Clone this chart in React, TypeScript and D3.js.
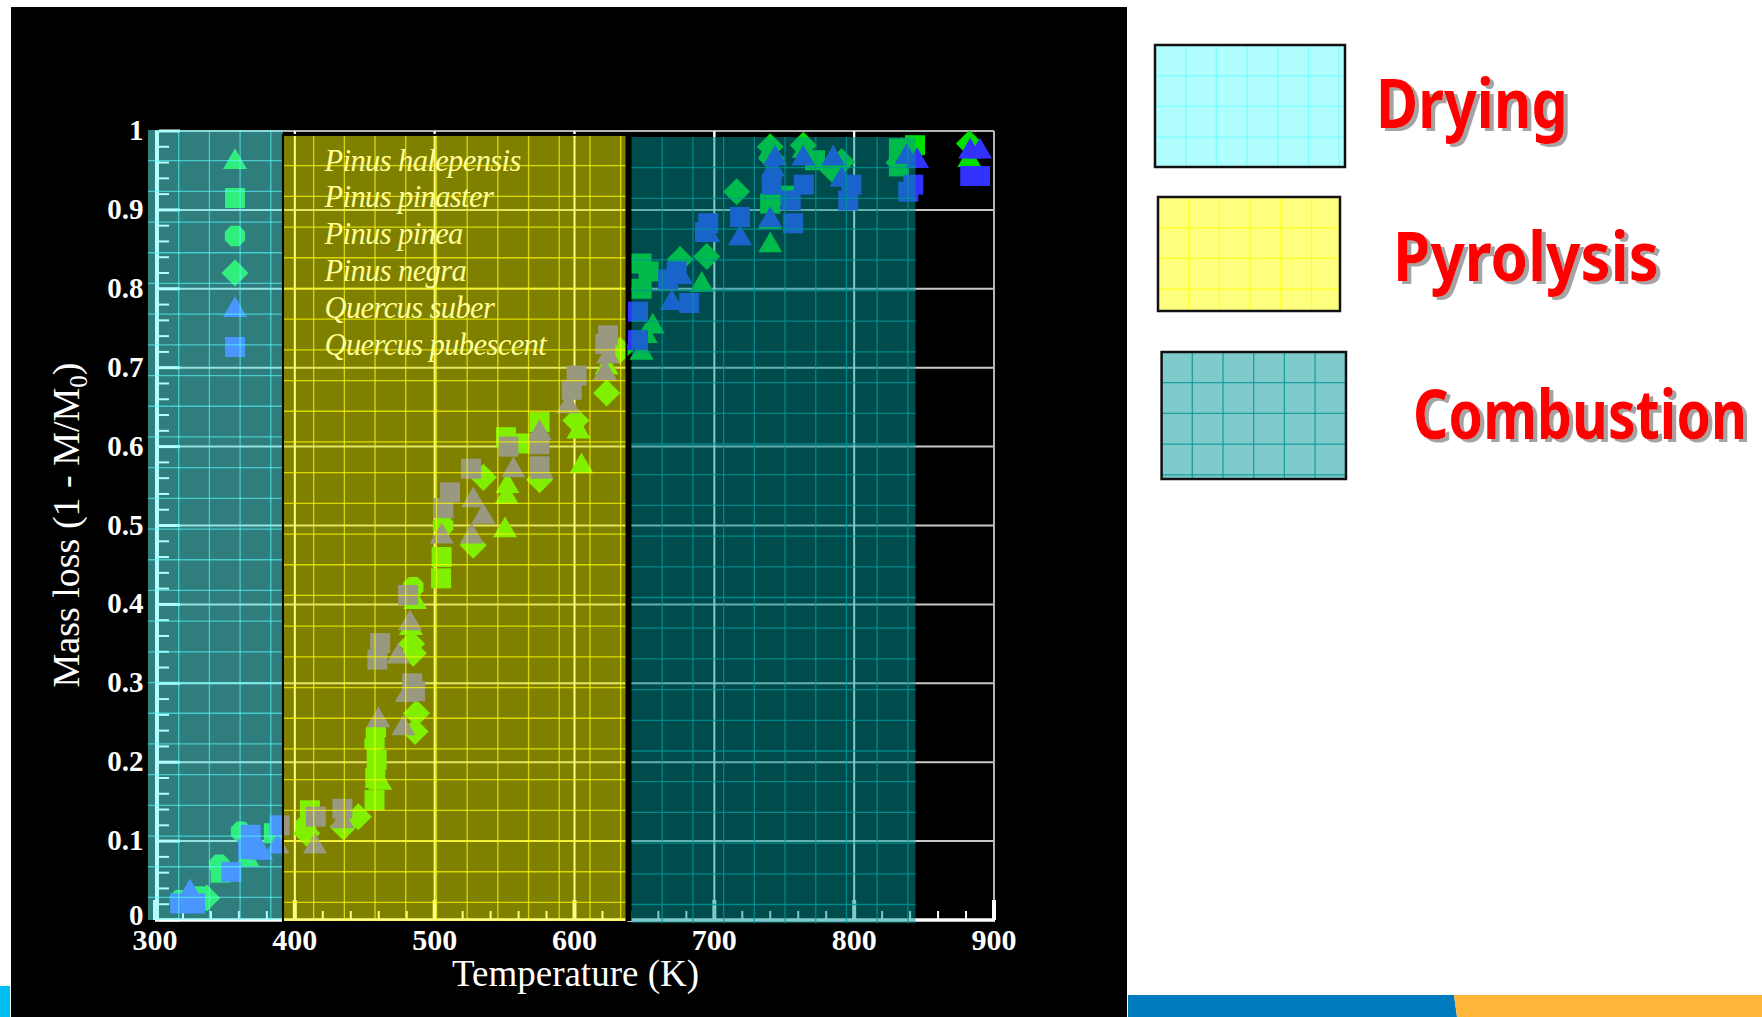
import React from "react";
import * as d3 from "d3";

// ---------- data ----------
const tempTicks = [300, 400, 500, 600, 700, 800, 900];
const massTicks = [0, 0.1, 0.2, 0.3, 0.4, 0.5, 0.6, 0.7, 0.8, 0.9, 1];
const massTickLabels = ["0", "0.1", "0.2", "0.3", "0.4", "0.5", "0.6", "0.7", "0.8", "0.9", "1"];

// [temperature K, mass loss]
const halepensis: [number, number][] = [
  [366, 0.077], [461, 0.174], [483, 0.37], [486, 0.403], [550.3, 0.494], [551.5, 0.536],
  [552, 0.55], [605, 0.575], [602.8, 0.619], [623, 0.70], [648, 0.719], [651, 0.74],
  [656, 0.752], [691, 0.805], [740, 0.855], [740, 0.885], [740, 0.975], [764, 0.975],
  [834, 0.975], [838, 0.975], [882.4, 0.963],
];
const pinaster: [number, number][] = [
  [347, 0.06], [385, 0.11], [410.8, 0.139], [457, 0.152], [457.5, 0.18], [458.5, 0.203],
  [504.6, 0.433], [505, 0.46], [551, 0.612], [563.4, 0.604], [575, 0.631], [648, 0.832],
  [653, 0.822], [648, 0.80], [739.9, 0.908], [752, 0.918], [772, 0.963], [832, 0.978],
  [832, 0.955], [843.5, 0.982],
];
const pinea: [number, number][] = [
  [317.8, 0.025], [331.5, 0.03], [346, 0.07], [361.5, 0.112], [408, 0.12], [457, 0.224],
  [458, 0.238], [484.7, 0.422], [506, 0.50],
];
const negra: [number, number][] = [
  [337, 0.028], [408.5, 0.11], [434.7, 0.118], [445.4, 0.131], [486, 0.239], [487, 0.262],
  [484.7, 0.338], [483.5, 0.35], [527.6, 0.475], [534.8, 0.561], [575, 0.558], [601, 0.633],
  [623, 0.668], [632.5, 0.722], [675.5, 0.837], [694.6, 0.841], [716, 0.923], [740, 0.98],
  [741, 0.965], [763.6, 0.982], [785, 0.95], [791, 0.961], [832, 0.96], [882.4, 0.984],
];
const suber: [number, number][] = [
  [325, 0.035], [376, 0.085], [387.6, 0.093], [414.4, 0.093], [434, 0.125], [459.7, 0.253],
  [477.6, 0.243], [474, 0.334], [480, 0.285], [482.4, 0.376], [505, 0.486], [526.5, 0.486],
  [527.6, 0.532], [534.8, 0.511], [556.3, 0.57], [575, 0.617], [576.6, 0.568], [595.6, 0.651],
  [621.8, 0.693], [624, 0.714], [669.5, 0.782], [676, 0.815], [695.7, 0.868], [718.4, 0.864],
  [739.9, 0.887], [742, 0.951], [743.4, 0.965], [763.6, 0.965], [785, 0.965], [791, 0.938],
  [837.5, 0.967], [845, 0.962], [883, 0.974], [890, 0.974],
];
const pubescent: [number, number][] = [
  [318, 0.021], [328.6, 0.021], [354.7, 0.061], [366.6, 0.09], [368.4, 0.108], [389, 0.12],
  [415, 0.131], [434, 0.141], [459, 0.33], [461, 0.351], [484, 0.30], [486, 0.29],
  [481, 0.412], [506.2, 0.522], [511, 0.542], [526, 0.572], [552.7, 0.60], [575, 0.603],
  [575, 0.575], [598, 0.672], [601.5, 0.69], [622, 0.73], [624, 0.741], [645.4, 0.735],
  [645.4, 0.771], [667, 0.812], [673, 0.822], [682, 0.782], [693.3, 0.872], [695.7, 0.883],
  [718.4, 0.891], [741, 0.932], [754.6, 0.912], [756.4, 0.883], [764, 0.932], [795.8, 0.912],
  [798, 0.932], [838.7, 0.923], [842.3, 0.932], [883, 0.943], [890, 0.943],
];

const speciesNames = [
  "Pinus halepensis", "Pinus pinaster", "Pinus pinea",
  "Pinus negra", "Quercus suber", "Quercus pubescent",
];

// phase bands: [T start, T end, top mass, bottom mass]
const phaseNames = ["Drying", "Pyrolysis", "Combustion"];
const phaseBands: [number, number, number, number][] = [
  [295, 391.5, 1.0013, 0],
  [391.5, 637.2, 0.995, -0.0025],
  [640.8, 843.9, 0.9924, -0.004],
];

// ---------- styling ----------
const W = 1762;
const H = 1017;
const GREEN = "#00e000";
const BLUE = "#3232ff";
const SERIF = "'Liberation Serif', 'Times New Roman', serif";
const CELL = 30.7;

const xScale = d3.scaleLinear().domain([300, 900]).range([155, 994]);
const yScale = d3.scaleLinear().domain([0, 1]).range([920, 131]);

const octagon = {
  draw(ctx: any, size: number) {
    const r = Math.sqrt(size / (2 * Math.SQRT2));
    for (let i = 0; i < 8; i++) {
      const a = Math.PI / 8 + (i * Math.PI) / 4;
      const px = r * Math.cos(a);
      const py = r * Math.sin(a);
      if (i === 0) ctx.moveTo(px, py);
      else ctx.lineTo(px, py);
    }
    ctx.closePath();
  },
};
const diamond = {
  draw(ctx: any, size: number) {
    const h = Math.sqrt(size) / Math.SQRT2;
    ctx.moveTo(0, -h);
    ctx.lineTo(h, 0);
    ctx.lineTo(0, h);
    ctx.lineTo(-h, 0);
    ctx.closePath();
  },
};

const series = [
  { data: halepensis, type: d3.symbolTriangle, size: 249, color: GREEN },
  { data: pinaster, type: d3.symbolSquare, size: 400, color: GREEN },
  { data: pinea, type: octagon, size: 342, color: GREEN },
  { data: negra, type: diamond, size: 365, color: GREEN },
  { data: suber, type: d3.symbolTriangle, size: 249, color: BLUE },
  { data: pubescent, type: d3.symbolSquare, size: 400, color: BLUE },
];

const phaseStyles = [
  { fill: "rgb(95,253,253)", fillOpacity: 0.494, line: "rgb(90,255,255)", lineOpacity: 0.6 },
  { fill: "rgb(255,255,0)", fillOpacity: 0.5, line: "rgb(255,255,0)", lineOpacity: 0.7 },
  { fill: "rgb(0,150,150)", fillOpacity: 0.5, line: "rgb(0,150,150)", lineOpacity: 0.8 },
];

function GridPanel(props: {
  x0: number; x1: number; y0: number; y1: number; style: any; border?: string; borderWidth?: number;
}) {
  const { x0, x1, y0, y1, style, border, borderWidth } = props;
  const vx = d3.range(x0 + CELL, x1 - 1, CELL);
  const hy = d3.range(y0 + CELL, y1 - 1, CELL);
  return (
    <g>
      <rect x={x0} y={y0} width={x1 - x0} height={y1 - y0} fill={style.fill} fillOpacity={style.fillOpacity} />
      {vx.map((x, i) => (
        <line key={"v" + i} x1={x} x2={x} y1={y0} y2={y1} stroke={style.line} strokeOpacity={style.lineOpacity} strokeWidth={1.3} />
      ))}
      {hy.map((y, i) => (
        <line key={"h" + i} x1={x0} x2={x1} y1={y} y2={y} stroke={style.line} strokeOpacity={style.lineOpacity} strokeWidth={1.3} />
      ))}
      {border && (
        <rect x={x0} y={y0} width={x1 - x0} height={y1 - y0} fill="none" stroke={border} strokeWidth={borderWidth || 2} />
      )}
    </g>
  );
}

export default function App() {
  const sym = d3.symbol();
  const minorX = d3.range(300, 901, 20).filter((t) => t % 100 !== 0);
  const minorY = d3.range(0, 51, 1).map((k) => k / 50).filter((_, k) => k % 5 !== 0);
  const gridY = massTicks.filter((m) => m > 0 && m < 1);
  const gridX = tempTicks.filter((t) => t > 300 && t < 900);

  const legendY = [162, 198, 236, 273, 310, 347];
  const legendTextY = [170.5, 207.3, 244.1, 280.9, 317.7, 354.5];

  const boxes = [
    { x0: 1155, x1: 1345, y0: 45, y1: 167 },
    { x0: 1158, x1: 1340, y0: 197, y1: 311 },
    { x0: 1161.6, x1: 1346, y0: 352, y1: 479 },
  ];
  const labels = [
    { x: 1376, y: 128, w: 192 },
    { x: 1393, y: 281, w: 266 },
    { x: 1413, y: 439, w: 334 },
  ];

  return (
    <svg width={W} height={H} style={{ position: "absolute", left: 0, top: 0, display: "block" }}>
      <defs>
        <clipPath id="plotClip">
          <rect x={145} y={131} width={994 - 145} height={923 - 131} />
        </clipPath>
        <filter id="labelShadow" x="-5%" y="-10%" width="112%" height="130%">
          <feDropShadow dx={4} dy={2.5} stdDeviation={0.6} floodColor="#9a9a9a" floodOpacity={0.9} />
        </filter>
      </defs>
      <rect x={0} y={0} width={W} height={H} fill="#ffffff" />
      <rect x={11} y={7} width={1116} height={H - 7} fill="#000000" />

      {/* major grid */}
      {gridY.map((m) => (
        <line key={"gy" + m} x1={xScale(300)} x2={xScale(900)} y1={yScale(m)} y2={yScale(m)} stroke="#c8c8c8" strokeWidth={2} />
      ))}
      {gridX.map((t) => (
        <line key={"gx" + t} x1={xScale(t)} x2={xScale(t)} y1={yScale(1)} y2={yScale(0)} stroke="#ffffff" strokeWidth={2} />
      ))}

      {/* frame */}
      <line x1={xScale(300)} x2={xScale(900)} y1={yScale(1)} y2={yScale(1)} stroke="#b4b4b4" strokeWidth={2} />
      <line x1={xScale(900)} x2={xScale(900)} y1={yScale(1)} y2={yScale(0)} stroke="#b4b4b4" strokeWidth={2} />
      <line x1={xScale(300)} x2={xScale(900) + 1} y1={yScale(0)} y2={yScale(0)} stroke="#ffffff" strokeWidth={3.5} />
      <line x1={xScale(300) + 2} x2={xScale(300) + 2} y1={yScale(1)} y2={yScale(0)} stroke="#ffffff" strokeWidth={4} />

      {/* ticks */}
      {minorX.map((t) => (
        <line key={"mx" + t} x1={xScale(t)} x2={xScale(t)} y1={yScale(0)} y2={yScale(0) - 9} stroke="#ffffff" strokeWidth={2} />
      ))}
      {tempTicks.map((t) => (
        <line key={"Mx" + t} x1={xScale(t)} x2={xScale(t)} y1={yScale(0)} y2={yScale(0) - 20} stroke="#ffffff" strokeWidth={4} />
      ))}
      {gridX.map((t) => (
        <line key={"tx" + t} x1={xScale(t)} x2={xScale(t)} y1={yScale(1)} y2={yScale(1) + 6} stroke="#ffffff" strokeWidth={2} />
      ))}
      {minorY.map((m) => (
        <line key={"my" + m} x1={159} x2={169} y1={yScale(m)} y2={yScale(m)} stroke="#ffffff" strokeWidth={2} />
      ))}
      {massTicks.map((m) => (
        <line key={"My" + m} x1={159} x2={180} y1={yScale(m)} y2={yScale(m)} stroke="#ffffff" strokeWidth={3} />
      ))}

      {/* gap between pyrolysis and combustion */}
      <rect x={xScale(phaseBands[1][1])} y={yScale(1) + 1} width={xScale(phaseBands[2][0]) - xScale(phaseBands[1][1])} height={yScale(0) - yScale(1)} fill="#000000" />

      {/* measured points */}
      <g clipPath="url(#plotClip)">
        {series.map((s, si) => (
          <g key={"s" + si}>
            {s.data.map((d, i) => (
              <path
                key={i}
                d={sym.type(s.type).size(s.size)() as string}
                transform={`translate(${xScale(d[0])},${yScale(d[1])})`}
                fill={s.color}
              />
            ))}
          </g>
        ))}
      </g>

      {/* legend symbols */}
      {series.map((s, si) => (
        <path
          key={"ls" + si}
          d={sym.type(s.type).size(s.size)() as string}
          transform={`translate(235,${legendY[si]})`}
          fill={s.color}
        />
      ))}

      {/* phase bands */}
      {phaseBands.map((b, i) => (
        <GridPanel
          key={"pb" + i}
          x0={xScale(b[0])}
          x1={xScale(b[1])}
          y0={yScale(b[2])}
          y1={yScale(b[3])}
          style={phaseStyles[i]}
          border={i === 1 ? "#000000" : undefined}
          borderWidth={2}
        />
      ))}

      {/* legend text */}
      {speciesNames.map((n, i) => (
        <text key={"lt" + i} x={324.5} y={legendTextY[i]} fill="#ffff96" fontFamily={SERIF} fontStyle="italic" fontSize={30.5} letterSpacing={-0.6}>
          {n}
        </text>
      ))}

      {/* tick labels */}
      {massTicks.map((m, i) => (
        <text key={"yl" + m} x={143.5} y={yScale(m) + (m === 0 ? 5 : 9)} textAnchor="end" fill="#ffffff" fontFamily={SERIF} fontWeight="bold" fontSize={29}>
          {massTickLabels[i]}
        </text>
      ))}
      {tempTicks.map((t) => (
        <text key={"xl" + t} x={xScale(t)} y={950} textAnchor="middle" fill="#ffffff" fontFamily={SERIF} fontWeight="bold" fontSize={30}>
          {t}
        </text>
      ))}

      {/* axis titles */}
      <text x={575.5} y={986} textAnchor="middle" fill="#ffffff" fontFamily={SERIF} fontSize={37}>
        Temperature (K)
      </text>
      <text transform="translate(79,525) rotate(-90)" textAnchor="middle" fill="#ffffff" fontFamily={SERIF} fontSize={38}>
        Mass loss (1 - M/M
        <tspan fontSize={25} dy={8}>0</tspan>
        <tspan dy={-8}>)</tspan>
      </text>

      {/* phase legend */}
      {boxes.map((b, i) => (
        <GridPanel key={"bx" + i} x0={b.x0} x1={b.x1} y0={b.y0} y1={b.y1} style={phaseStyles[i]} border="#111111" borderWidth={2.5} />
      ))}
      {labels.map((l, i) => (
        <text
          key={"lb" + i}
          transform={`translate(${l.x},${l.y}) scale(1,1.2)`}
          x={0}
          y={0}
          fill="#ff0000"
          filter="url(#labelShadow)"
          fontFamily="'Comic Sans MS', 'Noto Sans', sans-serif"
          fontWeight="bold"
          fontSize={56}
          textLength={l.w}
          lengthAdjust="spacingAndGlyphs"
        >
          {phaseNames[i]}
        </text>
      ))}

      {/* footer strips */}
      <rect x={0} y={986} width={10} height={H - 986} fill="#00bef0" />
      <polygon points={`1128,995 1454,995 1457,${H} 1128,${H}`} fill="#007bbd" />
      <polygon points={`1454,995 ${W},995 ${W},${H} 1457,${H}`} fill="#ffb638" />
    </svg>
  );
}
